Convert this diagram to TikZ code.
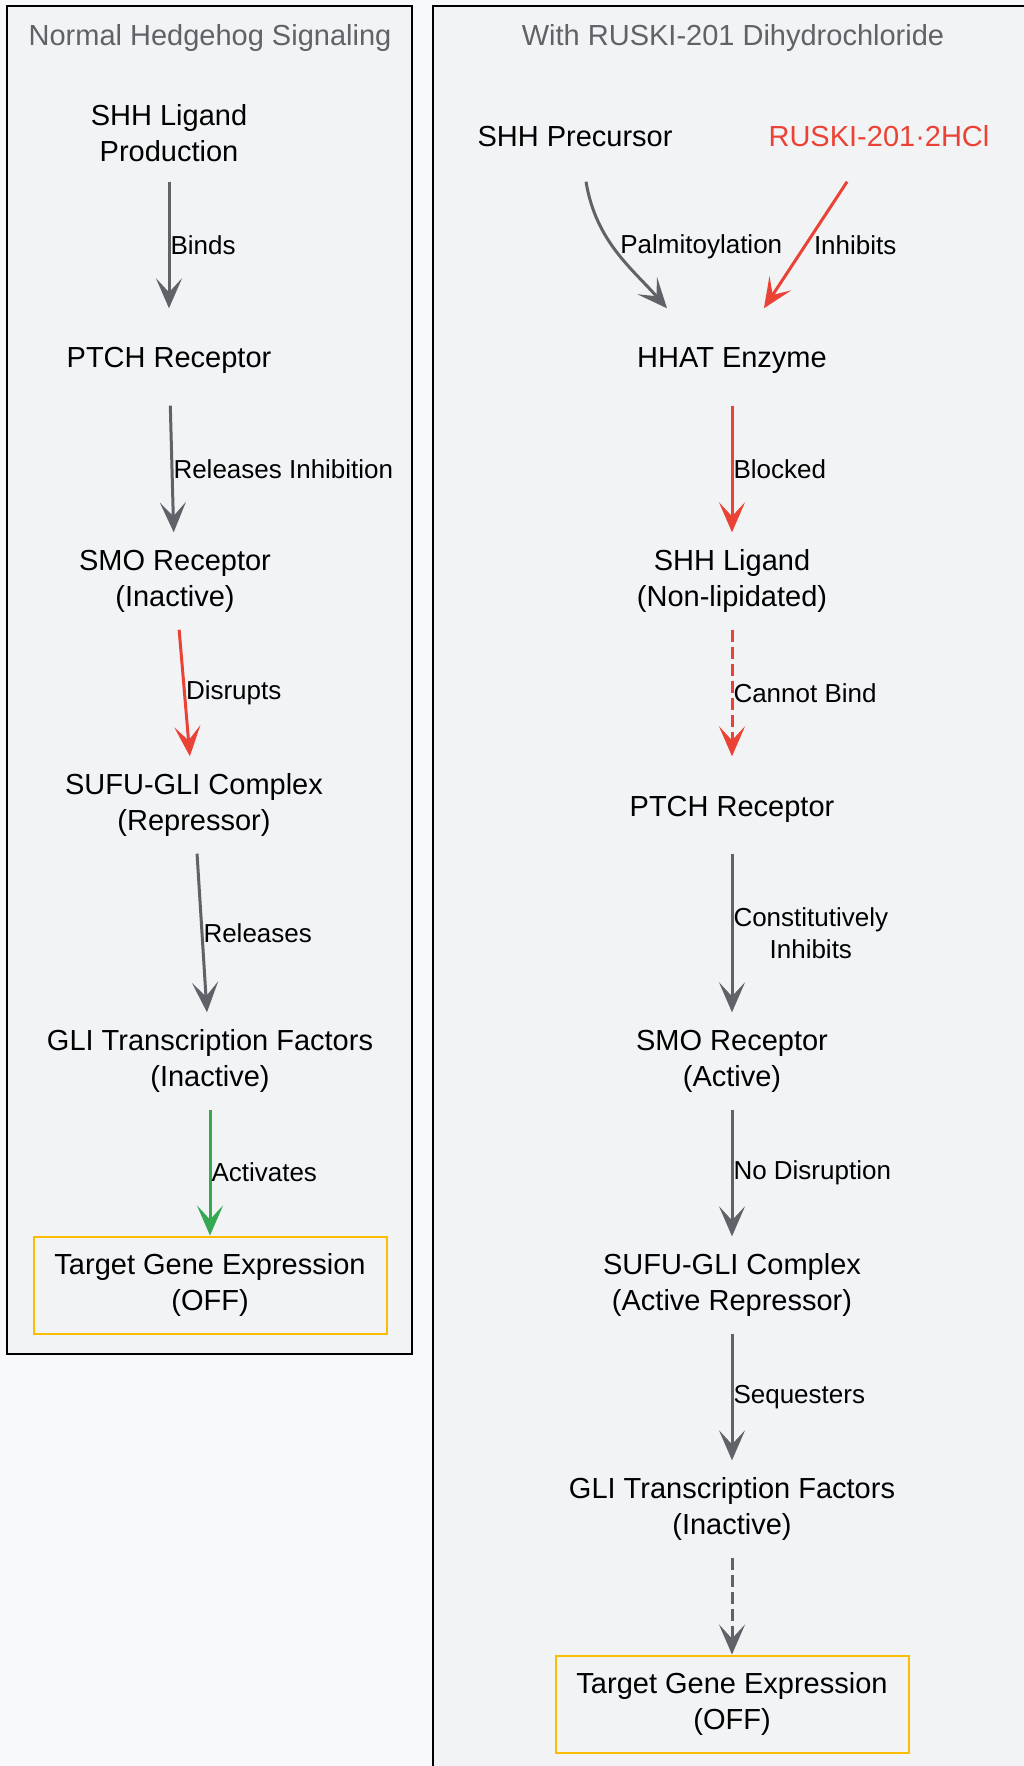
\documentclass[tikz,border=0pt]{standalone}
\usepackage{fontspec}
\setmainfont{Liberation Sans}
\usepackage{tikz}
\usetikzlibrary{arrows.meta,calc}
\definecolor{pagebg}{HTML}{F8F9FA}
\definecolor{panelbg}{HTML}{F1F3F5}
\definecolor{flowgray}{HTML}{5F6368}
\definecolor{flowred}{HTML}{EA4335}
\definecolor{flowgreen}{HTML}{34A853}
\definecolor{flowyellow}{HTML}{FBBC04}

\begin{document}
\begin{tikzpicture}[x = 1pt, y = -1pt]
\tikzset{
	panel box/.style = {draw = black, line width = 2pt, fill = panelbg},
	panel title/.style = {text = flowgray, font = \fontsize{29}{36}\selectfont},
	flow node/.style = {align = center, inner sep = 0pt, minimum height = 97pt, font = \fontsize{29}{36}\selectfont, execute at begin node = \rule{0pt}{28pt}},
	target node/.style = {flow node, draw = flowyellow, line width = 2pt, minimum width = 353pt},
	edge label/.style = {anchor = west, inner sep = 0pt, align = center, text = black, font = \fontsize{26}{31.5}\selectfont},
	flow arrow/.style = {line width = 3pt, -{Stealth[length = 30pt, width = 26pt, inset = 14pt]}},
	gray arrow/.style = {flow arrow, draw = flowgray},
	red arrow/.style = {flow arrow, draw = flowred},
	green arrow/.style = {flow arrow, draw = flowgreen},
	dash arrow/.style = {dash pattern = on 12pt off 5pt},
}

\clip (0,0) rectangle (1024,1766);
\fill [pagebg] (0,0) rectangle (1024,1766);
\draw [panel box] (7,6) rectangle (412,1354);
\draw [panel box] (433,6) rectangle (1050,1800);

\node (ltitle) [panel title] at (210,38) {Normal Hedgehog Signaling};
\node (rtitle) [panel title] at (733,38) {With RUSKI-201 Dihydrochloride};

\node (lshh) [flow node] at (169,133) {SHH Ligand\\Production};
\node (lptch) [flow node] at (169,357) {PTCH Receptor};
\node (lsmo) [flow node] at (175,581) {SMO Receptor\\(Inactive)};
\node (lsufu) [flow node] at (194,805) {SUFU-GLI Complex\\(Repressor)};
\node (lgli) [flow node] at (210,1061) {GLI Transcription Factors\\(Inactive)};
\node (ltarget) [target node] at (210,1285) {Target Gene Expression\\(OFF)};

\node (rpre) [flow node] at (575,133) {SHH Precursor};
\node (rruski) [flow node, text = flowred] at (879,133) {RUSKI-201·2HCl};
\node (rhhat) [flow node] at (732,357) {HHAT Enzyme};
\node (rshh) [flow node] at (732,581) {SHH Ligand\\(Non-lipidated)};
\node (rptch) [flow node] at (732,805) {PTCH Receptor};
\node (rsmo) [flow node] at (732,1061) {SMO Receptor\\(Active)};
\node (rsufu) [flow node] at (732,1285) {SUFU-GLI Complex\\(Active Repressor)};
\node (rgli) [flow node] at (732,1509) {GLI Transcription Factors\\(Inactive)};
\node (rtarget) [target node] at (732,1704) {Target Gene Expression\\(OFF)};

\draw [gray arrow] (lshh) -- node [edge label] {Binds} (lptch);
\draw [gray arrow] (lptch) -- node [edge label] {Releases Inhibition} (lsmo);
\draw [red arrow] (lsmo) -- node [edge label] {Disrupts} (lsufu);
\draw [gray arrow] (lsufu) -- node [edge label] {Releases} (lgli);
\draw [green arrow] (lgli) -- node [edge label] {Activates} (ltarget);

\draw [gray arrow] ([xshift = 11pt]rpre.south) .. controls +(10,60) and +(-35,-40) .. node [edge label, pos = 0.45, xshift = 6pt] {Palmitoylation} ([xshift = -65pt]rhhat.north);
\draw [red arrow] (rruski) -- node [edge label, xshift = 7pt] {Inhibits} (rhhat);
\draw [red arrow] (rhhat) -- node [edge label] {Blocked} (rshh);
\draw [red arrow, dash arrow] (rshh) -- node [edge label] {Cannot Bind} (rptch);
\draw [gray arrow] (rptch) -- node [edge label] {Constitutively\\Inhibits} (rsmo);
\draw [gray arrow] (rsmo) -- node [edge label] {No Disruption} (rsufu);
\draw [gray arrow] (rsufu) -- node [edge label] {Sequesters} (rgli);
\draw [gray arrow, dash arrow] (rgli) -- (rtarget);

\end{tikzpicture}
\end{document}
